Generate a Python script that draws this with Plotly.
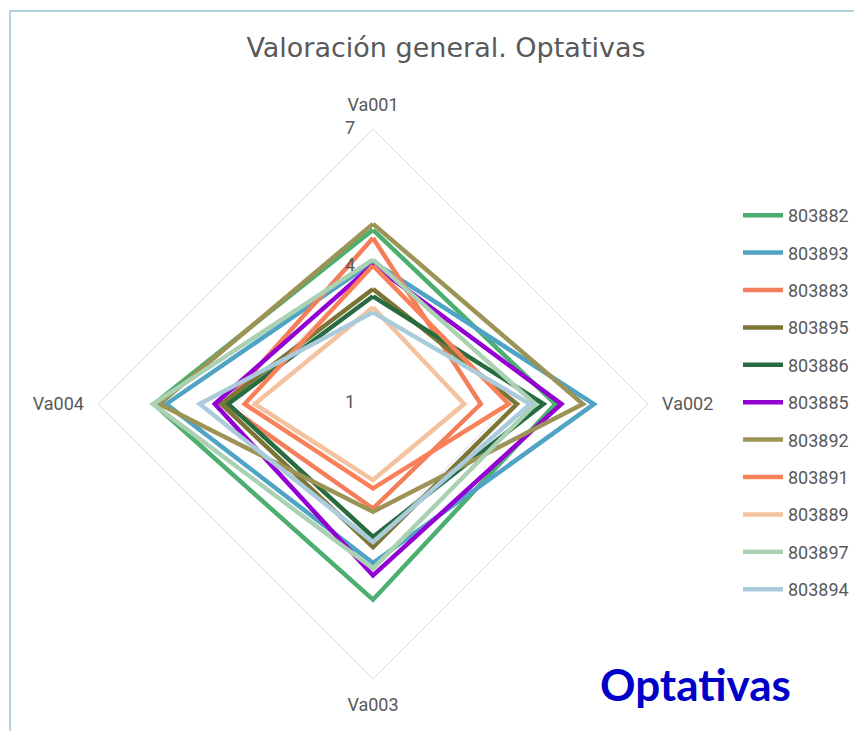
import plotly.graph_objects as go

# %% Data
categories = ['Va001', 'Va002', 'Va003', 'Va004']

series_names = ['803882', '803893', '803883', '803895', '803886', '803885',
                '803892', '803891', '803889', '803897', '803894']

v_803882 = [4.80, 4.98, 5.27, 5.78]
v_803893 = [4.10, 5.82, 4.47, 5.51]
v_803883 = [4.62, 3.35, 3.28, 4.23]
v_803895 = [3.51, 4.14, 4.12, 4.31]
v_803886 = [3.35, 4.72, 3.90, 4.16]
v_803885 = [4.04, 5.11, 4.74, 4.45]
v_803892 = [4.93, 5.58, 3.35, 5.66]
v_803891 = [4.02, 3.96, 2.84, 3.80]
v_803889 = [3.11, 2.99, 2.66, 3.58]
v_803897 = [4.15, 4.54, 4.59, 5.80]
v_803894 = [3.00, 4.43, 4.01, 4.78]

series_values = [v_803882, v_803893, v_803883, v_803895, v_803886, v_803885,
                 v_803892, v_803891, v_803889, v_803897, v_803894]

colors = ['#4CAE6F', '#4FA3C4', '#F47E5A', '#7D7535', '#276B40', '#9400D3',
          '#9C9456', '#FA8059', '#F5C29F', '#A9D1B2', '#AACBDB']

radial_ticks = [1, 4, 7]

FONT = 'Roboto, sans-serif'
GREY = '#595959'

# %% Helpers: page pixels -> paper fractions
W, H = 862, 731
OFF = 8
def px_x(x):
    return (x - OFF) / W
def px_y(y):
    return 1 - (y - OFF) / H

# %% Figure
fig = go.Figure()

for name, vals, col in zip(series_names, series_values, colors):
    #close the polygon by repeating the first point
    fig.add_trace(go.Scatterpolar(r = vals + vals[:1],
                                  theta = categories + categories[:1],
                                  mode = 'lines',
                                  name = name,
                                  legendgroup = name,
                                  line = dict(color = col, width = 4.5),
                                  hoverinfo = 'skip'))

#radial tick labels, drawn on the Va001 spoke, to the left of it
#(the minimum is nudged a hair up so the "1" at the centre is not dropped)
tick_r = [t + 0.001 if t == radial_ticks[0] else t for t in radial_ticks]
fig.add_trace(go.Scatterpolar(r = tick_r,
                              theta = [categories[0]] * len(radial_ticks),
                              mode = 'text',
                              text = [str(t) + '\u00a0' * 4 for t in radial_ticks],
                              textposition = 'middle left',
                              textfont = dict(family = FONT, size = 18, color = GREY),
                              cliponaxis = False,
                              showlegend = False,
                              hoverinfo = 'skip'))

cx, cy, R = 373, 404, 275

fig.update_layout(width = W, height = H,
                  margin = dict(l = 0, r = 0, t = 0, b = 0),
                  paper_bgcolor = 'white',
                  font = dict(family = FONT, size = 18, color = GREY),
                  title = dict(text = 'Valoración general. Optativas',
                               x = px_x(446), xanchor = 'center',
                               y = px_y(48), yanchor = 'middle',
                               font = dict(family = 'DejaVu Sans, sans-serif', size = 27, color = GREY)),
                  polar = dict(domain = dict(x = [px_x(cx - R), px_x(cx + R)],
                                             y = [px_y(cy + R), px_y(cy - R)]),
                               bgcolor = 'white',
                               gridshape = 'linear',
                               radialaxis = dict(range = [1, 7],
                                                 tickvals = radial_ticks,
                                                 showticklabels = False,
                                                 angle = 90,
                                                 showline = False,
                                                 ticks = '',
                                                 gridcolor = '#D9D9D9',
                                                 gridwidth = 1),
                               angularaxis = dict(direction = 'clockwise',
                                                  rotation = 90,
                                                  showgrid = False,
                                                  showline = True,
                                                  linecolor = '#D9D9D9',
                                                  linewidth = 1,
                                                  #invisible ticks push the labels away from the diamond
                                                  ticks = 'outside',
                                                  ticklen = 10,
                                                  tickcolor = 'rgba(0,0,0,0)',
                                                  tickfont = dict(size = 18, color = GREY))),
                  legend = dict(x = px_x(738), xanchor = 'left',
                                y = px_y(197), yanchor = 'top',
                                tracegroupgap = 11,
                                itemwidth = 40,
                                font = dict(size = 18, color = GREY),
                                bgcolor = 'rgba(0,0,0,0)'),
                  showlegend = True)

#light blue frame of the chart area (runs off the right and bottom edges)
fig.add_shape(type = 'rect', xref = 'paper', yref = 'paper',
              x0 = px_x(10), x1 = 1.05, y0 = -0.05, y1 = px_y(11),
              line = dict(color = '#9DC3D8', width = 1.5),
              fillcolor = 'rgba(0,0,0,0)', layer = 'below')

fig.add_annotation(text = '<b>Optativas</b>', xref = 'paper', yref = 'paper',
                   x = px_x(695), y = px_y(684), xanchor = 'center', yanchor = 'middle',
                   showarrow = False,
                   font = dict(family = 'Lato, Open Sans, sans-serif', size = 44, color = '#0000C8'))

fig.write_html('out.html')
